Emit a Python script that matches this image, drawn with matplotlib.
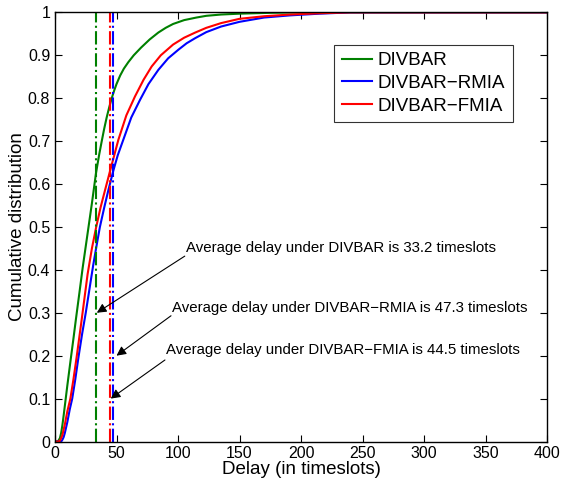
import numpy as np
import matplotlib
matplotlib.use('Agg')
import matplotlib.pyplot as plt

plt.rcParams['font.family'] = ['Liberation Sans', 'DejaVu Sans']

# CDF curves (delay in timeslots vs cumulative prob.)
divbar_x = [0, 2, 3, 4, 5, 6, 7, 8.5, 10, 12.7, 15, 17, 20, 22.5, 25, 27, 30, 33.3, 36, 38, 40, 42, 44,
            46, 48, 50, 53, 56, 59.6, 64, 70, 77, 84, 90, 96, 105, 115, 123, 135, 150, 175, 200, 400]
divbar_y = [0, 0, 0.003, 0.008, 0.02, 0.038, 0.06, 0.095, 0.13, 0.19, 0.24, 0.285, 0.35, 0.405, 0.455,
            0.495, 0.555, 0.625, 0.67, 0.70, 0.729, 0.755, 0.778, 0.799, 0.817, 0.833, 0.853, 0.869, 0.884,
            0.9, 0.918, 0.937, 0.953, 0.964, 0.973, 0.982, 0.988, 0.992, 0.995, 0.997, 0.999, 1, 1]

fmia_x = [0, 3, 4, 5, 6, 8, 10, 12.5, 15, 17.5, 21.5, 24, 26.5, 30, 33.5, 37, 40.7, 45, 51.5, 58, 65,
          72, 78.6, 86, 96, 105, 114, 123, 135, 150, 170, 191, 215, 240, 400]
fmia_y = [0, 0, 0.002, 0.008, 0.015, 0.04, 0.07, 0.1, 0.145, 0.195, 0.28, 0.335, 0.39, 0.45, 0.5, 0.545,
          0.586, 0.633, 0.703, 0.76, 0.804, 0.843, 0.874, 0.9, 0.925, 0.941, 0.953, 0.964, 0.975, 0.985,
          0.991, 0.995, 0.998, 1, 1]

rmia_x = [0, 5, 6, 7, 8, 10, 12, 14, 16.5, 19, 22, 25, 28, 31, 34, 36.5, 40, 43.4, 47.3, 51, 55.5, 62,
          69.1, 76, 84, 92, 100.3, 107, 114, 123, 135, 150, 170, 191, 215, 240, 400]
rmia_y = [0, 0, 0.004, 0.01, 0.02, 0.045, 0.075, 0.1, 0.145, 0.195, 0.25, 0.3, 0.355, 0.41, 0.46, 0.5,
          0.545, 0.586, 0.63, 0.667, 0.703, 0.755, 0.796, 0.833, 0.866, 0.893, 0.913, 0.928, 0.94, 0.954,
          0.967, 0.978, 0.988, 0.993, 0.997, 1, 1]

# average delays
avg_divbar = 33.2
avg_rmia = 47.3
avg_fmia = 44.5

GREEN = (0, 0.5, 0)
BLUE = (0, 0, 1)
RED = (1, 0, 0)

fig = plt.figure(figsize=(5.63, 4.8), dpi=100)
ax = fig.add_axes([0.0977, 0.0802, 0.8739, 0.894])

ax.plot(divbar_x, divbar_y, color=GREEN, lw=1.5, label='DIVBAR')
ax.plot(rmia_x, rmia_y, color=BLUE, lw=1.5, label='DIVBAR\u2212RMIA')
ax.plot(fmia_x, fmia_y, color=RED, lw=1.5, label='DIVBAR\u2212FMIA')

ax.plot([avg_divbar, avg_divbar], [0, 1], color=GREEN, lw=1.5, ls='-.')
ax.plot([avg_rmia, avg_rmia], [0, 1], color=BLUE, lw=1.5, ls='-.')
ax.plot([avg_fmia, avg_fmia], [0, 1], color=RED, lw=1.5, ls='-.')

#annotations
notes = [('Average delay under DIVBAR is %.1f timeslots' % avg_divbar, (106.5, 0.452), (105.5, 0.432), (34, 0.3)),
         ('Average delay under DIVBAR\u2212RMIA is %.1f timeslots' % avg_rmia, (95.1, 0.311), (94.3, 0.293), (50, 0.2)),
         ('Average delay under DIVBAR\u2212FMIA is %.1f timeslots' % avg_fmia, (90.2, 0.213), (89.4, 0.19), (45.3, 0.1))]
for txt, tpos, tail, tip in notes:
    ax.text(tpos[0], tpos[1], txt, fontsize=10.8, ha='left', va='center')
    ax.annotate('', xy=tip, xytext=tail,
                arrowprops=dict(arrowstyle='-|>', color='k', lw=0.8, mutation_scale=14, shrinkA=0, shrinkB=0))

ax.set_xlim(0, 400)
ax.set_ylim(0, 1)
ax.set_xticks(np.arange(0, 401, 50))
ax.set_yticks(np.arange(0, 1.01, 0.1))
ax.set_yticklabels(['0', '0.1', '0.2', '0.3', '0.4', '0.5', '0.6', '0.7', '0.8', '0.9', '1'])
ax.tick_params(direction='in', top=True, right=True, labelsize=11.5, length=5, width=0.8)
for s in ax.spines.values():
    s.set_linewidth(1.0)

ax.set_xlabel('Delay (in timeslots)', fontsize=13.5, labelpad=0)
ax.set_ylabel('Cumulative distribution', fontsize=13.5, labelpad=1)

leg = ax.legend(loc='upper right', bbox_to_anchor=(0.93, 0.925), fontsize=13.5, frameon=True,
                fancybox=False, edgecolor='k', handlelength=1.6, handletextpad=0.3,
                borderpad=0.4, labelspacing=0.3, borderaxespad=0)
leg.get_frame().set_linewidth(0.8)

fig.savefig('out.png', dpi=100)
